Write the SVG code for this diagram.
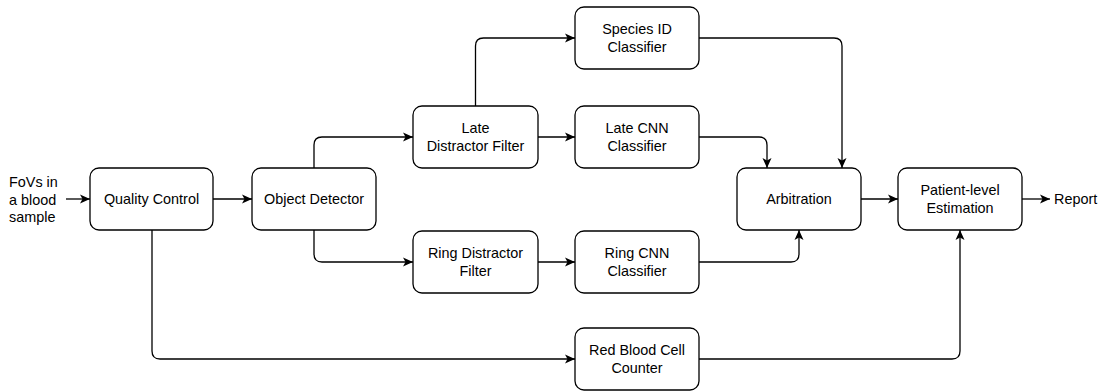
<svg xmlns="http://www.w3.org/2000/svg" width="1102" height="392" viewBox="0 0 1102 392">
<style>
.box{fill:#fff;stroke:#000;stroke-width:1.3}
.t{font-family:"Liberation Sans",Arial,sans-serif;font-size:14.4px;fill:#000;text-anchor:middle}
.tl{font-family:"Liberation Sans",Arial,sans-serif;font-size:14.4px;fill:#000}
.c{fill:none;stroke:#000;stroke-width:1.3;marker-end:url(#a)}
</style>
<defs>
<marker id="a" markerUnits="userSpaceOnUse" markerWidth="11" markerHeight="10" refX="10" refY="5" orient="auto">
<path d="M0,0.5 L10,5 L0,9.5 L2.5,5 z" fill="#000"/>
</marker>
</defs>
<rect width="1102" height="392" fill="#fff"/>
<g id="connectors">
<path class="c" d="M66,199 H90"/>
<path class="c" d="M213,199 H252"/>
<path class="c" d="M314,168 V145 Q314,137 322,137 H413"/>
<path class="c" d="M314,230 V254 Q314,262 322,262 H413"/>
<path class="c" d="M475.5,106 V46 Q475.5,38 483.5,38 H575"/>
<path class="c" d="M538,137 H575"/>
<path class="c" d="M538,262 H575"/>
<path class="c" d="M699,38 H834 Q842,38 842,46 V168"/>
<path class="c" d="M699,137 H759 Q767,137 767,145 V168"/>
<path class="c" d="M699,262 H791 Q799,262 799,254 V230"/>
<path class="c" d="M861,199 H898"/>
<path class="c" d="M1022,199 H1050"/>
<path class="c" d="M152,230 V351 Q152,359 160,359 H575"/>
<path class="c" d="M699,359 H952 Q960,359 960,351 V230"/>
</g>
<g id="input">
<text class="tl" x="9" y="187">FoVs in</text>
<text class="tl" x="9" y="205">a blood</text>
<text class="tl" x="9" y="222">sample</text>
</g>
<g id="quality-control">
<rect class="box" x="90" y="168" width="123" height="62" rx="9"/>
<text class="t" x="151.5" y="204">Quality Control</text>
</g>
<g id="object-detector">
<rect class="box" x="252" y="168" width="124" height="62" rx="9"/>
<text class="t" x="314" y="204">Object Detector</text>
</g>
<g id="late-distractor-filter">
<rect class="box" x="413" y="106" width="125" height="62" rx="9"/>
<text class="t" x="475.5" y="133">Late</text>
<text class="t" x="475.5" y="150.5">Distractor Filter</text>
</g>
<g id="ring-distractor-filter">
<rect class="box" x="413" y="231" width="125" height="62" rx="9"/>
<text class="t" x="475.5" y="258">Ring Distractor</text>
<text class="t" x="475.5" y="275.5">Filter</text>
</g>
<g id="species-id-classifier">
<rect class="box" x="575" y="7" width="124" height="62" rx="9"/>
<text class="t" x="637" y="34">Species ID</text>
<text class="t" x="637" y="51.5">Classifier</text>
</g>
<g id="late-cnn-classifier">
<rect class="box" x="575" y="106" width="124" height="62" rx="9"/>
<text class="t" x="637" y="133">Late CNN</text>
<text class="t" x="637" y="150.5">Classifier</text>
</g>
<g id="ring-cnn-classifier">
<rect class="box" x="575" y="231" width="124" height="62" rx="9"/>
<text class="t" x="637" y="258">Ring CNN</text>
<text class="t" x="637" y="275.5">Classifier</text>
</g>
<g id="red-blood-cell-counter">
<rect class="box" x="575" y="328" width="124" height="62" rx="9"/>
<text class="t" x="637" y="355">Red Blood Cell</text>
<text class="t" x="637" y="372.5">Counter</text>
</g>
<g id="arbitration">
<rect class="box" x="737" y="168" width="124" height="62" rx="9"/>
<text class="t" x="799" y="204">Arbitration</text>
</g>
<g id="patient-level-estimation">
<rect class="box" x="898" y="168" width="124" height="62" rx="9"/>
<text class="t" x="960" y="195">Patient-level</text>
<text class="t" x="960" y="212.5">Estimation</text>
</g>
<g id="report">
<text class="tl" x="1054" y="204">Report</text>
</g>
</svg>
